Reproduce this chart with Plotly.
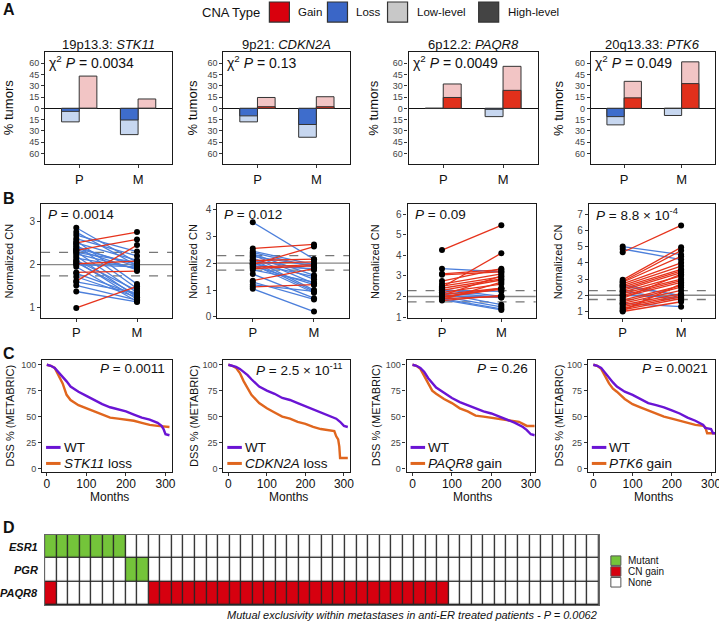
import plotly.graph_objects as go

W, H = 719, 622          # reference picture size (layout coordinates below are in these pixels)
FIG_W, FIG_H = 726, 628  # page size of the figure
FONT = "Liberation Sans"

# ---------------- DATA ----------------
GROUPS = ["P", "M"]
GENES = ["STK11", "CDKN2A", "PAQR8", "PTK6"]

# Panel A: % tumors (P = primary, M = metastasis)
A_TITLES = ["19p13.3: <i>STK11</i>", "9p21: <i>CDKN2A</i>", "6p12.2: <i>PAQR8</i>", "20q13.33: <i>PTK6</i>"]
A_PVALS = ["0.0034", "0.13", "0.0049", "0.049"]
LOSS_TOTAL = [[18, 35], [18, 38.5], [0, 11], [22, 9.5]]
LOSS_HIGH = [[4, 15.5], [10, 21.5], [0, 1.3], [11, 0]]
GAIN_TOTAL = [[43, 12.5], [14.5, 15.5], [32.5, 56], [36, 62]]
GAIN_HIGH = [[0, 0], [2.2, 2.2], [14.5, 24], [14, 33]]
A_YTICKS = [-60, -45, -30, -15, 0, 15, 30, 45, 60]
A_YTICKTEXT = ["60", "45", "30", "15", "0", "15", "30", "45", "60"]

# Panel B: normalized copy number, paired primary (P) / metastasis (M)
STK11_P = [2.50, 2.33, 1.62, 2.02, 1.82, 1.00, 2.85, 2.75, 2.68, 2.60, 2.55, 2.50, 2.45, 2.42, 2.38, 2.30,
           2.25, 2.20, 2.15, 2.10, 2.08, 2.05, 2.00, 1.95, 1.80, 1.72, 1.60, 1.52, 1.38, 2.35, 2.28]
STK11_M = [2.75, 2.58, 2.45, 2.08, 1.85, 1.50, 2.05, 1.98, 2.30, 2.20, 1.55, 2.10, 1.45, 1.95, 2.00, 1.35,
           1.90, 1.25, 1.92, 1.40, 1.20, 1.30, 1.95, 1.15, 1.30, 1.25, 1.35, 1.18, 1.14, 1.88, 2.05]
CDKN2A_P = [2.55, 1.95, 1.35, 1.12, 2.00, 1.85, 1.80, 2.10, 3.52, 2.45, 2.40, 2.35, 2.30, 2.25,
            2.20, 2.15, 2.10, 2.05, 2.00, 1.95, 1.90, 1.75, 1.60, 1.30, 1.05, 1.20, 1.90]
CDKN2A_M = [2.70, 2.62, 1.80, 1.20, 2.05, 1.95, 1.90, 2.15, 2.15, 1.95, 1.85, 1.55, 1.40, 1.90,
            1.25, 1.00, 1.75, 0.95, 1.50, 0.90, 1.80, 1.30, 0.70, 0.65, 0.20, 0.95, 1.20]
PAQR8_P = [4.25, 2.45, 3.10, 3.05, 2.75, 2.60, 2.50, 2.40, 2.30, 2.20, 2.10, 2.05, 1.95, 1.90, 1.85,
           1.80, 2.00, 3.35, 2.35, 2.20, 2.15, 2.00, 1.90, 1.85, 2.05, 2.30]
PAQR8_M = [5.45, 4.10, 3.30, 3.20, 3.35, 3.10, 2.95, 2.85, 2.80, 2.60, 2.40, 3.00, 2.40, 2.00, 2.70,
           2.05, 2.35, 3.20, 2.00, 1.95, 1.60, 1.50, 1.40, 1.35, 1.95, 2.25]
PTK6_P = [4.65, 2.95, 2.85, 2.70, 2.60, 2.50, 2.40, 2.30, 2.20, 2.10, 2.00, 1.90, 1.80, 1.70, 1.60,
          1.50, 1.40, 1.30, 1.20, 1.10, 1.00, 1.05, 2.80, 5.00, 4.85, 2.65, 2.55, 2.00, 1.50, 2.25]
PTK6_M = [6.30, 4.95, 4.75, 4.00, 3.80, 3.60, 3.50, 3.40, 3.20, 3.00, 2.90, 2.80, 3.30, 2.60, 2.50,
          2.30, 2.10, 2.00, 1.90, 1.80, 1.60, 2.70, 4.40, 4.50, 4.20, 1.95, 2.00, 1.85, 1.30, 1.70]
B_PVALS = ["0.0014", "0.012", "0.09", "8.8 × 10<sup>-4</sup>"]
B_YTICKS = [[1, 2, 3], [0, 1, 2, 3, 4], [1, 2, 3, 4, 5, 6], [1, 2, 3, 4, 5, 6, 7]]
B_YRANGE = [[0.78, 3.39], [-0.02, 4.19], [0.98, 6.47], [0.63, 7.6]]
CN_NEUTRAL = 2.0
CN_THRESH = [1.74, 2.28]

# Panel C: METABRIC disease-specific survival (%), months
STK11_WT_T = [0, 10, 20, 30, 40, 50, 60, 80, 100, 120, 140, 160, 180, 200, 220, 240, 260, 280, 290, 295, 300, 310]
STK11_WT_S = [100, 99, 97, 93, 88, 84, 79, 74, 70, 66, 62, 59, 57, 55, 52, 49, 47, 44, 41, 38, 33, 32]
STK11_ALT_T = [0, 10, 20, 30, 40, 50, 60, 80, 100, 120, 140, 160, 180, 200, 220, 240, 260, 280, 300, 310]
STK11_ALT_S = [100, 99, 97, 90, 82, 71, 66, 61, 58, 55, 52, 49, 48, 47, 46, 44, 42, 41, 40, 40]
CDKN2A_WT_T = [0, 10, 20, 30, 40, 50, 60, 80, 100, 120, 140, 160, 180, 200, 220, 240, 260, 280, 290, 300, 310]
CDKN2A_WT_S = [100, 99, 98, 96, 93, 90, 86, 79, 75, 72, 68, 66, 63, 60, 57, 54, 51, 48, 45, 41, 40]
CDKN2A_ALT_T = [0, 10, 20, 30, 40, 50, 60, 80, 100, 120, 140, 160, 180, 200, 220, 240, 260, 275, 280, 285, 288, 290, 310]
CDKN2A_ALT_S = [100, 99, 97, 92, 84, 77, 71, 63, 58, 54, 50, 48, 45, 43, 40, 38, 37, 36, 31, 28, 21, 10, 10]
PAQR8_WT_T = [0, 10, 20, 30, 40, 50, 60, 80, 100, 120, 140, 160, 180, 200, 220, 240, 260, 280, 290, 300, 310]
PAQR8_WT_S = [100, 99, 97, 93, 87, 82, 78, 73, 68, 64, 61, 58, 55, 53, 50, 47, 44, 40, 37, 33, 32]
PAQR8_ALT_T = [0, 10, 20, 30, 40, 50, 60, 80, 100, 120, 140, 160, 180, 200, 220, 240, 260, 270, 280, 290, 310]
PAQR8_ALT_S = [100, 99, 96, 89, 81, 75, 72, 67, 63, 58, 55, 51, 50, 49, 48, 47, 46, 45, 43, 41, 41]
PTK6_WT_T = [0, 10, 20, 30, 40, 50, 60, 80, 100, 120, 140, 160, 180, 200, 220, 240, 260, 280, 285, 300, 305, 310]
PTK6_WT_S = [100, 99, 97, 92, 87, 83, 79, 74, 71, 67, 63, 61, 59, 56, 53, 49, 46, 42, 39, 38, 34, 34]
PTK6_ALT_T = [0, 10, 20, 30, 40, 50, 60, 80, 100, 120, 140, 160, 180, 200, 220, 240, 260, 280, 285, 290, 310]
PTK6_ALT_S = [100, 99, 96, 89, 82, 77, 74, 67, 62, 59, 56, 53, 50, 48, 46, 44, 42, 41, 40, 34, 34]
C_PVALS = ["0.0011", "2.5 × 10<sup>-11</sup>", "0.26", "0.0021"]
C_ALT_LABELS = ["<i>STK11</i> loss", "<i>CDKN2A</i> loss", "<i>PAQR8</i> gain", "<i>PTK6</i> gain"]
C_XRANGE = [[-12, 317], [-13, 317], [-15, 310], [-14, 310]]

# Panel D: status in metastases (0 = None, 1 = Mutant, 2 = CN gain), 48 patients
D_GENES = ["ESR1", "PGR", "PAQR8"]
ESR1_STATUS = [1, 1, 1, 1, 1, 1, 1, 0, 0, 0, 0, 0,
               0, 0, 0, 0, 0, 0, 0, 0, 0, 0, 0, 0,
               0, 0, 0, 0, 0, 0, 0, 0, 0, 0, 0, 0,
               0, 0, 0, 0, 0, 0, 0, 0, 0, 0, 0, 0]
PGR_STATUS = [0, 0, 0, 0, 0, 0, 0, 1, 1, 0, 0, 0,
              0, 0, 0, 0, 0, 0, 0, 0, 0, 0, 0, 0,
              0, 0, 0, 0, 0, 0, 0, 0, 0, 0, 0, 0,
              0, 0, 0, 0, 0, 0, 0, 0, 0, 0, 0, 0]
PAQR8_STATUS = [2, 0, 0, 0, 0, 0, 0, 0, 0, 2, 2, 2,
                2, 2, 2, 2, 2, 2, 2, 2, 2, 2, 2, 2,
                2, 2, 2, 2, 2, 2, 2, 2, 2, 2, 2, 0,
                0, 0, 0, 0, 0, 0, 0, 0, 0, 0, 0, 0]
D_CAPTION = "Mutual exclusivity within metastases in anti-ER treated patients - <i>P</i> = 0.0062"

# ---------------- STYLE ----------------
GAIN_HI, GAIN_LO = "#e1301b", "#f2c5c5"
LOSS_HI, LOSS_LO = "#3e6dcc", "#c7d7f0"
UP_LINE, DOWN_LINE = "#e6331c", "#4c7fdb"
WT_COL, ALT_COL = "#6a14d4", "#e0661e"
MUT_COL, CNG_COL = "#74c43a", "#d6000f"
TXT = "#111111"

A_BOX = [(45, 172), (223, 350), (408, 537), (590, 714)]
A_YB = (52, 164)
B_BOX = [(41, 172), (217, 349), (407, 535), (588, 714)]
B_YB = (204, 317)
C_BOX = [(42, 172), (223, 350), (406, 534), (587, 714)]
C_YB = (359, 471)
D_BOX = (45, 598)
D_YB = (534, 604)


def X(px):
    return px / W


def Y(py):
    return 1 - py / H


layout = dict(
    width=FIG_W, height=FIG_H, margin=dict(l=0, r=0, t=0, b=0), autosize=False,
    paper_bgcolor="white", plot_bgcolor="white", showlegend=False,
    font=dict(family=FONT, color=TXT), barmode="overlay",
)
annotations = []
shapes = []
fig = go.Figure()


def ax_names(i):
    return ("xaxis" if i == 1 else f"xaxis{i}", "yaxis" if i == 1 else f"yaxis{i}",
            "x" if i == 1 else f"x{i}", "y" if i == 1 else f"y{i}")


def add_axes(i, xb, yb, xextra, yextra):
    base = dict(showline=True, mirror=True, linecolor="#1a1a1a", linewidth=1.2, ticks="outside",
                ticklen=3, tickwidth=1, tickcolor="#333", showgrid=False, zeroline=False)
    xn, yn, xr, yr = ax_names(i)
    layout[xn] = dict(base, domain=[X(xb[0]), X(xb[1])], anchor=yr, **xextra)
    layout[yn] = dict(base, domain=[Y(yb[1]), Y(yb[0])], anchor=xr, **yextra)
    return xr, yr


def ann(text, x, y, size, xanchor="left", yanchor="middle", angle=0, color=TXT):
    annotations.append(dict(text=text, x=X(x), y=Y(y), xref="paper", yref="paper",
                            xanchor=xanchor, yanchor=yanchor, showarrow=False,
                            textangle=angle, font=dict(size=size, color=color, family=FONT)))


def cat_x():
    return dict(type="category", categoryorder="array", categoryarray=GROUPS, range=[-0.58, 1.58],
                tickfont=dict(size=13, color=TXT))

# ---------------- PANEL A ----------------
for k in range(4):
    i = k + 1
    xr, yr = add_axes(i, A_BOX[k], A_YB, cat_x(),
                      dict(range=[-74.5, 75], tickvals=A_YTICKS, ticktext=A_YTICKTEXT,
                           tickfont=dict(size=9, color="#444"), zeroline=True,
                           zerolinecolor="#111", zerolinewidth=1.2))
    bar_line = dict(color="#333", width=1)
    fig.add_trace(go.Bar(x=GROUPS, y=[-v for v in LOSS_TOTAL[k]], width=0.3, offset=-0.3,
                         marker=dict(color=LOSS_LO, line=bar_line), xaxis=xr, yaxis=yr))
    fig.add_trace(go.Bar(x=GROUPS, y=[-v for v in LOSS_HIGH[k]], width=0.3, offset=-0.3,
                         marker=dict(color=LOSS_HI, line=bar_line), xaxis=xr, yaxis=yr))
    fig.add_trace(go.Bar(x=GROUPS, y=GAIN_TOTAL[k], width=0.3, offset=0,
                         marker=dict(color=GAIN_LO, line=bar_line), xaxis=xr, yaxis=yr))
    fig.add_trace(go.Bar(x=GROUPS, y=GAIN_HIGH[k], width=0.3, offset=0,
                         marker=dict(color=GAIN_HI, line=bar_line), xaxis=xr, yaxis=yr))
    cx = (A_BOX[k][0] + A_BOX[k][1]) / 2
    ann(A_TITLES[k], cx, 44, 13, xanchor="center")
    ann(f"χ<sup>2</sup> <i>P</i> = {A_PVALS[k]}", A_BOX[k][0] + 2, 62, 14)

for xpos in [8, 192, 373, 557]:
    ann("% tumors", xpos, 108, 13, xanchor="center", angle=-90)

# ---------------- PANEL B ----------------
B_DATA = [(STK11_P, STK11_M), (CDKN2A_P, CDKN2A_M), (PAQR8_P, PAQR8_M), (PTK6_P, PTK6_M)]


def pair_lines(P, M, up):
    xs, ys = [], []
    for p, m in zip(P, M):
        if (m > p) == up:
            xs += ["P", "M", None]
            ys += [p, m, None]
    return xs, ys


for k in range(4):
    i = 5 + k
    xr, yr = add_axes(i, B_BOX[k], B_YB, cat_x(),
                      dict(range=B_YRANGE[k], tickvals=B_YTICKS[k], tickfont=dict(size=10, color="#444")))
    xdom = f"{xr} domain"
    shapes.append(dict(type="line", xref=xdom, yref=yr, x0=0, x1=1, y0=CN_NEUTRAL, y1=CN_NEUTRAL,
                       line=dict(color="#888", width=1.3), layer="below"))
    for t in CN_THRESH:
        shapes.append(dict(type="line", xref=xdom, yref=yr, x0=0, x1=1, y0=t, y1=t,
                           line=dict(color="#777", width=1.3, dash="dash"), layer="below"))
    P, M = B_DATA[k]
    bx, by = pair_lines(P, M, False)
    fig.add_trace(go.Scatter(x=bx, y=by, mode="lines", line=dict(color=DOWN_LINE, width=1.3),
                             xaxis=xr, yaxis=yr))
    rx, ry = pair_lines(P, M, True)
    fig.add_trace(go.Scatter(x=rx, y=ry, mode="lines", line=dict(color=UP_LINE, width=1.3),
                             xaxis=xr, yaxis=yr))
    fig.add_trace(go.Scatter(x=["P"] * len(P) + ["M"] * len(M), y=P + M, mode="markers",
                             marker=dict(color="#000", size=6), xaxis=xr, yaxis=yr))
    ann(f"<i>P</i> = {B_PVALS[k]}", B_BOX[k][0] + 5, 214, 13.5)

for xpos in [9, 193, 375, 558]:
    ann("Normalized CN", xpos, 261, 11, xanchor="center", angle=-90)

# ---------------- PANEL C ----------------
C_DATA = [(STK11_WT_T, STK11_WT_S, STK11_ALT_T, STK11_ALT_S),
          (CDKN2A_WT_T, CDKN2A_WT_S, CDKN2A_ALT_T, CDKN2A_ALT_S),
          (PAQR8_WT_T, PAQR8_WT_S, PAQR8_ALT_T, PAQR8_ALT_S),
          (PTK6_WT_T, PTK6_WT_S, PTK6_ALT_T, PTK6_ALT_S)]
for k in range(4):
    i = 9 + k
    xr, yr = add_axes(i, C_BOX[k], C_YB,
                      dict(range=C_XRANGE[k], tickvals=[0, 100, 200, 300], tickfont=dict(size=12, color=TXT),
                           ticklabelstandoff=-2),
                      dict(range=[-3.2, 105], tickvals=[0, 25, 50, 75, 100], tickfont=dict(size=9, color="#444")))
    wt_t, wt_s, al_t, al_s = C_DATA[k]
    fig.add_trace(go.Scatter(x=al_t, y=al_s, mode="lines", line=dict(color=ALT_COL, width=2.4),
                             xaxis=xr, yaxis=yr))
    fig.add_trace(go.Scatter(x=wt_t, y=wt_s, mode="lines", line=dict(color=WT_COL, width=2.4),
                             xaxis=xr, yaxis=yr))
    ann(f"<i>P</i> = {C_PVALS[k]}", C_BOX[k][1] - 5, 368, 13.5, xanchor="right")
    ann("Months", (C_BOX[k][0] + C_BOX[k][1]) / 2 + 2, 496.5, 12, xanchor="center")
    lx = C_BOX[k][0] + 4
    for row, (col, lab) in enumerate([(WT_COL, "WT"), (ALT_COL, C_ALT_LABELS[k])]):
        yy = 446.7 + 16 * row
        shapes.append(dict(type="line", xref="paper", yref="paper", x0=X(lx), x1=X(lx + 14.5),
                           y0=Y(yy), y1=Y(yy), line=dict(color=col, width=3)))
        ann(lab, lx + 15.5, yy, 13.5)

for xpos in [10, 193, 375, 558]:
    ann("DSS % (METABRIC)", xpos, 415, 11, xanchor="center", angle=-90)

# ---------------- PANEL D ----------------
i = 13
xr, yr = add_axes(i, D_BOX, D_YB,
                  dict(range=[-0.5, len(ESR1_STATUS) - 0.5], showticklabels=False, ticks="",
                       linecolor="#666"),
                  dict(type="category", autorange="reversed", showticklabels=False, ticks="",
                       linecolor="#666"))
shapes.append(dict(type="rect", xref=f"{xr} domain", yref=f"{yr} domain", x0=0, x1=1, y0=0, y1=1,
                   fillcolor="#262626", line=dict(width=0), layer="below"))
fig.add_trace(go.Heatmap(z=[ESR1_STATUS, PGR_STATUS, PAQR8_STATUS], y=D_GENES,
                         colorscale=[[0, "#ffffff"], [0.5, MUT_COL], [1, CNG_COL]], zmin=0, zmax=2,
                         showscale=False, xgap=1.3, ygap=1.3, xaxis=xr, yaxis=yr, hoverinfo="skip"))
row_h = (D_YB[1] - D_YB[0]) / 3
for r, g in enumerate(D_GENES):
    ann(f"<b><i>{g}</i></b>", 40, D_YB[0] + row_h * (r + 0.5), 11, xanchor="right")
ann(f"<i>{D_CAPTION}</i>", 598, 614, 11, xanchor="right")
for r, (col, lab) in enumerate([(MUT_COL, "Mutant"), (CNG_COL, "CN gain"), ("#ffffff", "None")]):
    y0 = 555 + r * 10.8
    shapes.append(dict(type="rect", xref="paper", yref="paper", x0=X(610), x1=X(620),
                       y0=Y(y0), y1=Y(y0 + 9.5), fillcolor=col, line=dict(color="#555", width=1)))
    ann(lab, 625.5, y0 + 4.8, 10)

# ---------------- TOP LEGEND ----------------
ann("CNA Type", 262, 12, 13, xanchor="right")
for x0, col, lab in [(269, "#d9000d", "Gain"), (327, "#3a66c7", "Loss"),
                     (387, "#c8c8c8", "Low-level"), (478, "#444444", "High-level")]:
    shapes.append(dict(type="rect", xref="paper", yref="paper", x0=X(x0), x1=X(x0 + 20),
                       y0=Y(2), y1=Y(22), fillcolor=col, line=dict(color="#333", width=1.2)))
    ann(lab, x0 + 27, 12, 11.5)

# Panel letters
for letter, yy in [("A", 9), ("B", 198), ("C", 353), ("D", 527)]:
    ann(f"<b>{letter}</b>", 1, yy, 16)

layout["annotations"] = annotations
layout["shapes"] = shapes
fig.update_layout(**layout)

PAGE_JS = (
    "var s=document.documentElement.style, b=document.body.style;"
    "s.margin='0';s.padding='0';s.overflow='hidden';"
    "b.margin='0';b.padding='0';b.overflow='hidden';"
)
fig.write_html("out.html", config={"displayModeBar": False}, post_script=PAGE_JS)
